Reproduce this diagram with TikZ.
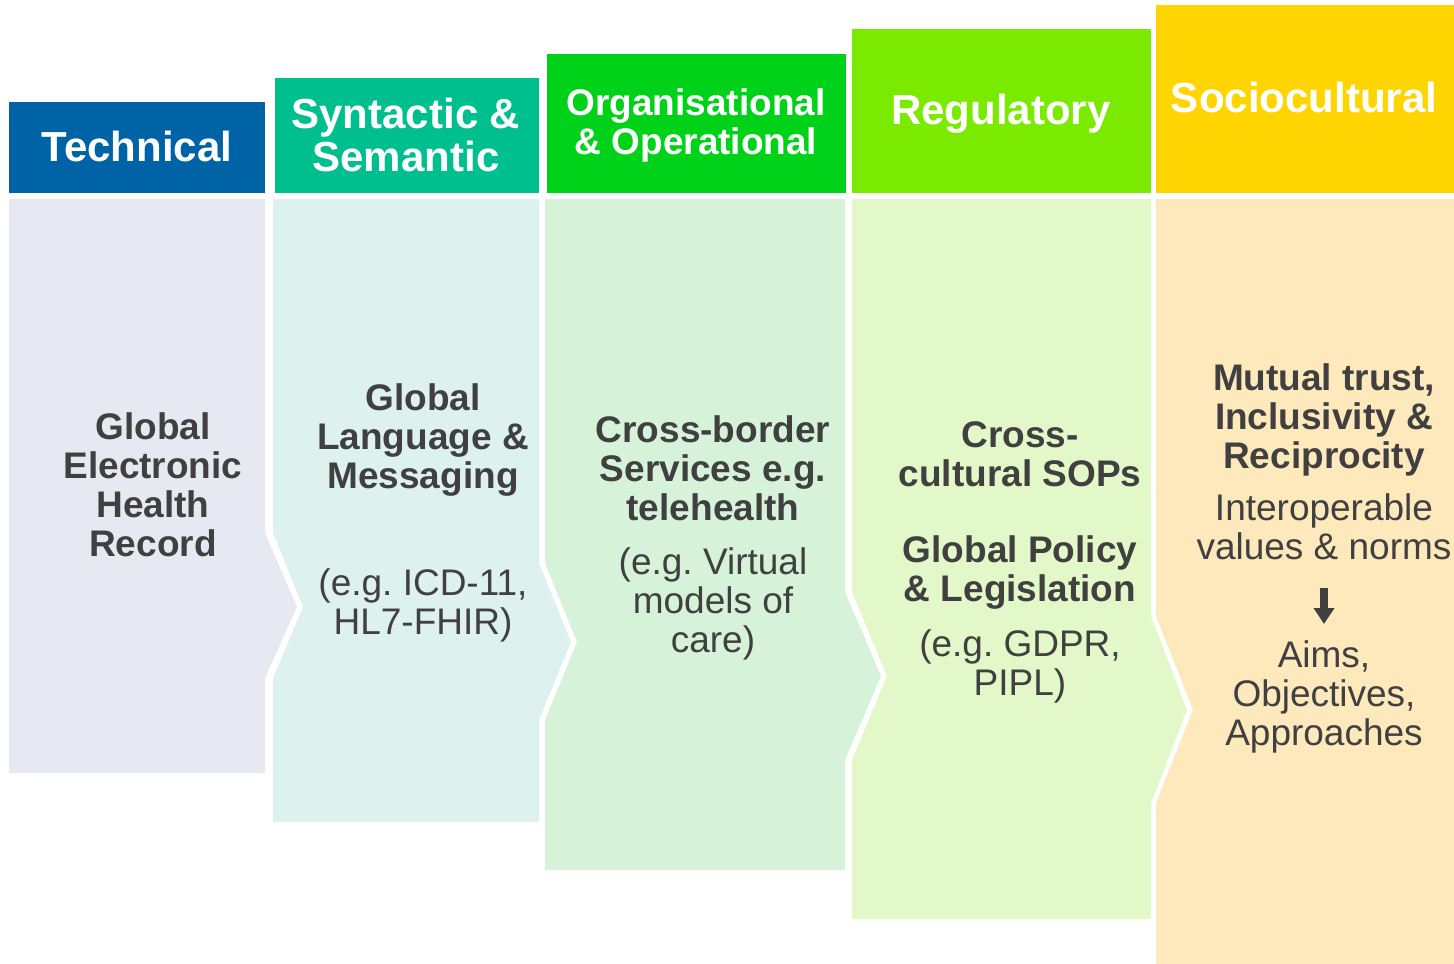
\documentclass[tikz,border=0pt]{standalone}
\usepackage{fontspec}
\setmainfont{Liberation Sans}
\usetikzlibrary{arrows.meta}
\frenchspacing

\definecolor{techhd}{HTML}{0063A6}
\definecolor{techbg}{HTML}{E6E9F1}
\definecolor{synhd}{HTML}{00BF8E}
\definecolor{synbg}{HTML}{DDF1EF}
\definecolor{orghd}{HTML}{00D21A}
\definecolor{orgbg}{HTML}{D6F3DA}
\definecolor{reghd}{HTML}{7AEA00}
\definecolor{regbg}{HTML}{E2F8C8}
\definecolor{sochd}{HTML}{FFD500}
\definecolor{socbg}{HTML}{FDE9BC}
\definecolor{txtgray}{HTML}{404040}

\tikzset{
  hdtext/.style={text=white, font=\fontsize{31.5}{32.25}\selectfont\bfseries, align=center, inner sep=0pt},
  keytext/.style={text=txtgray, font=\fontsize{27.75}{29.25}\selectfont\bfseries, align=center, inner sep=0pt},
  notetext/.style={text=txtgray, font=\fontsize{27.75}{29.25}\selectfont, align=center, inner sep=0pt},
  downarr/.style={txtgray, line width=5.6pt, -{Triangle[width=15pt,length=12pt]}}
}

\begin{document}
\begin{tikzpicture}[x=0.75pt,y=-0.75pt]
\useasboundingbox (0,0) rectangle (1454,964);

% header bars
\fill[techhd] (9,102) rectangle (265,193);
\fill[synhd] (275,78) rectangle (539,193);
\fill[orghd] (547,54) rectangle (846,193);
\fill[reghd] (852,29) rectangle (1151,193);
\fill[sochd] (1156,5) rectangle (1454,193);

% chevron bodies
\fill[techbg] (9,199) -- (265,199) -- (265,533) -- (297,607) -- (265,678) -- (265,773) -- (9,773) -- cycle;
\fill[synbg] (273,199) -- (539,199) -- (539,563) -- (571,642) -- (539,720) -- (539,822)
  -- (273,822) -- (273,678) -- (303,607) -- (273,533) -- cycle;
\fill[orgbg] (545,199) -- (845,199) -- (845,592) -- (881,676) -- (845,760) -- (845,870)
  -- (545,870) -- (545,720) -- (577,642) -- (545,563) -- cycle;
\fill[regbg] (852,199) -- (1151,199) -- (1151,616) -- (1187,710) -- (1151,803) -- (1151,919)
  -- (852,919) -- (852,760) -- (887,676) -- (852,592) -- cycle;
\fill[socbg] (1156,199) -- (1454,199) -- (1454,964) -- (1156,964) -- (1156,803) -- (1193,710) -- (1156,616) -- cycle;

% header texts
\node[hdtext] (tech) at (137,146) {Technical};
\node[hdtext] (syn) at (406,135) {Syntactic \&\\Semantic};
\node[hdtext, font=\fontsize{27.75}{29.25}\selectfont\bfseries] (org) at (696,125) {Organisational\\\& Operational};
\node[hdtext] (reg) at (1001,114) {Regulatory};
\node[hdtext] (soc) at (1304,97) {Sociocultural};

% body texts
\node[keytext] (ehr) at (153,485) {Global\\Electronic\\Health\\Record};
\node[keytext] (lang) at (423,440) {Global\\Language \&\\Messaging};
\node[notetext] (icd) at (423,605) {(e.g. ICD-11,\\HL7-FHIR)};
\node[keytext] (xbord) at (713,468) {Cross-border\\Services e.g.\\telehealth};
\node[notetext] (virt) at (713,604) {(e.g. Virtual\\models of\\care)};
\node[keytext] (sops) at (1020,454) {Cross-\\cultural SOPs};
\node[keytext] (policy) at (1020,573) {Global Policy\\\& Legislation};
\node[notetext] (gdpr) at (1020,666) {(e.g. GDPR,\\PIPL)};
\node[keytext] (trust) at (1324,420) {Mutual trust,\\Inclusivity \&\\Reciprocity};
\node[notetext] (norms) at (1324,527) {Interoperable\\values \& norms};
\node[notetext] (aims) at (1324,697) {Aims,\\Objectives,\\Approaches};

\coordinate (arrtop) at (1324,588);
\coordinate (arrtip) at (1324,624);
\draw[downarr] (arrtop) -- (arrtip);
\end{tikzpicture}
\end{document}
